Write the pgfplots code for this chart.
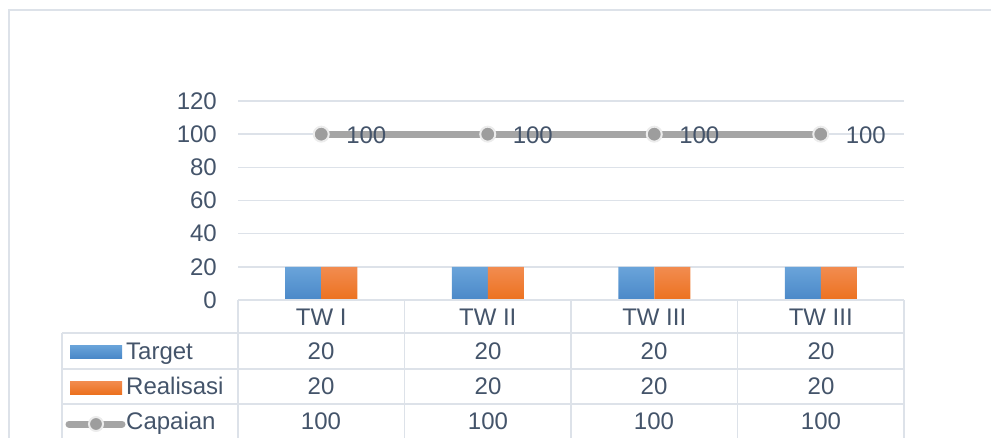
\documentclass[border=0pt]{standalone}
\usepackage{pgfplots}
\pgfplotsset{compat=1.18}
\usepackage{fontspec}
\setmainfont{Liberation Sans}
\definecolor{txt}{HTML}{44546A}
\definecolor{gridc}{HTML}{DDE2E9}
\definecolor{tblc}{HTML}{DDE2E9}
\definecolor{blueT}{HTML}{6AA4DA}
\definecolor{blueB}{HTML}{4A88C8}
\definecolor{oraT}{HTML}{F28C50}
\definecolor{oraB}{HTML}{EC711F}
\definecolor{lineg}{HTML}{A5A5A5}
\newcommand{\cf}{\fontsize{24bp}{28bp}\selectfont}
\begin{document}
\begin{tikzpicture}
\useasboundingbox (0,0) rectangle (991bp,-438bp);
\clip (0,0) rectangle (991bp,-438bp);
\cf
% outer chart border
\draw[tblc, line width=1.5bp] (9bp,-450bp) -- (9bp,-10bp) -- (1000bp,-10bp);
\begin{axis}[
  at={(238bp,-300bp)}, anchor=south west,
  scale only axis, width=666bp, height=199bp,
  xmin=-0.5, xmax=3.5, ymin=0, ymax=120,
  ytick={0,20,40,60,80,100,120},
  xtick={0,1,2,3}, xticklabels={TW I,TW II,TW III,TW III},
  major tick length=0pt,
  axis line style={draw=none},
  ymajorgrids, grid style={gridc, line width=1.5bp},
  tick label style={font=\cf, text=txt},
  yticklabel style={anchor=east, inner sep=0pt, xshift=-21bp},
  xticklabel style={anchor=base, inner sep=0pt, yshift=-25bp},
  clip=false,
  /pgf/number format/assume math mode=true,
]
\addplot[ybar, bar width=36bp, bar shift=-18bp, draw=none, top color=blueT, bottom color=blueB]
  coordinates {(0,20) (1,20) (2,20) (3,20)};
\addplot[ybar, bar width=36bp, bar shift=18bp, draw=none, top color=oraT, bottom color=oraB]
  coordinates {(0,20) (1,20) (2,20) (3,20)};
\addplot[lineg, line width=7bp, mark=*, mark size=7.5bp,
  mark options={fill=lineg!95!black, draw=gray!15, line width=2bp},
  nodes near coords,
  every node near coord/.append style={anchor=base west, inner sep=0pt, xshift=24bp, yshift=-9bp, text=txt, font=\cf, /pgf/number format/assume math mode=true}]
  coordinates {(0,100) (1,100) (2,100) (3,100)};
\end{axis}
% data table grid
\begin{scope}[tblc, line width=1.5bp]
\draw (238bp,-300bp) -- (904bp,-300bp);
\foreach \y in {333,369,404} \draw (62bp,-\y bp) -- (904bp,-\y bp);
\draw (62bp,-333bp) -- (62bp,-445bp);
\foreach \x in {238,404.5,571,737.5,904} \draw (\x bp,-300bp) -- (\x bp,-445bp);
\end{scope}
% legend keys
\shade[top color=blueT, bottom color=blueB] (70bp,-345bp) rectangle (122bp,-358bp);
\shade[top color=oraT, bottom color=oraB] (70bp,-381bp) rectangle (122bp,-394bp);
\draw[lineg, line width=7bp, line cap=round] (69bp,-424bp) -- (122bp,-424bp);
\filldraw[fill=lineg!95!black, draw=gray!15, line width=2bp] (96bp,-424bp) circle (7bp);
\begin{scope}[text=txt]
\node[anchor=base west, inner sep=0pt] at (126bp,-359bp) {Target};
\node[anchor=base west, inner sep=0pt] at (126bp,-394bp) {Realisasi};
\node[anchor=base west, inner sep=0pt] at (126bp,-429bp) {Capaian};
\foreach \x in {321,488,654,821} {
  \node[anchor=base, inner sep=0pt] at (\x bp,-359bp) {20};
  \node[anchor=base, inner sep=0pt] at (\x bp,-394bp) {20};
  \node[anchor=base, inner sep=0pt] at (\x bp,-429bp) {100};
}
\end{scope}
\end{tikzpicture}
\end{document}
